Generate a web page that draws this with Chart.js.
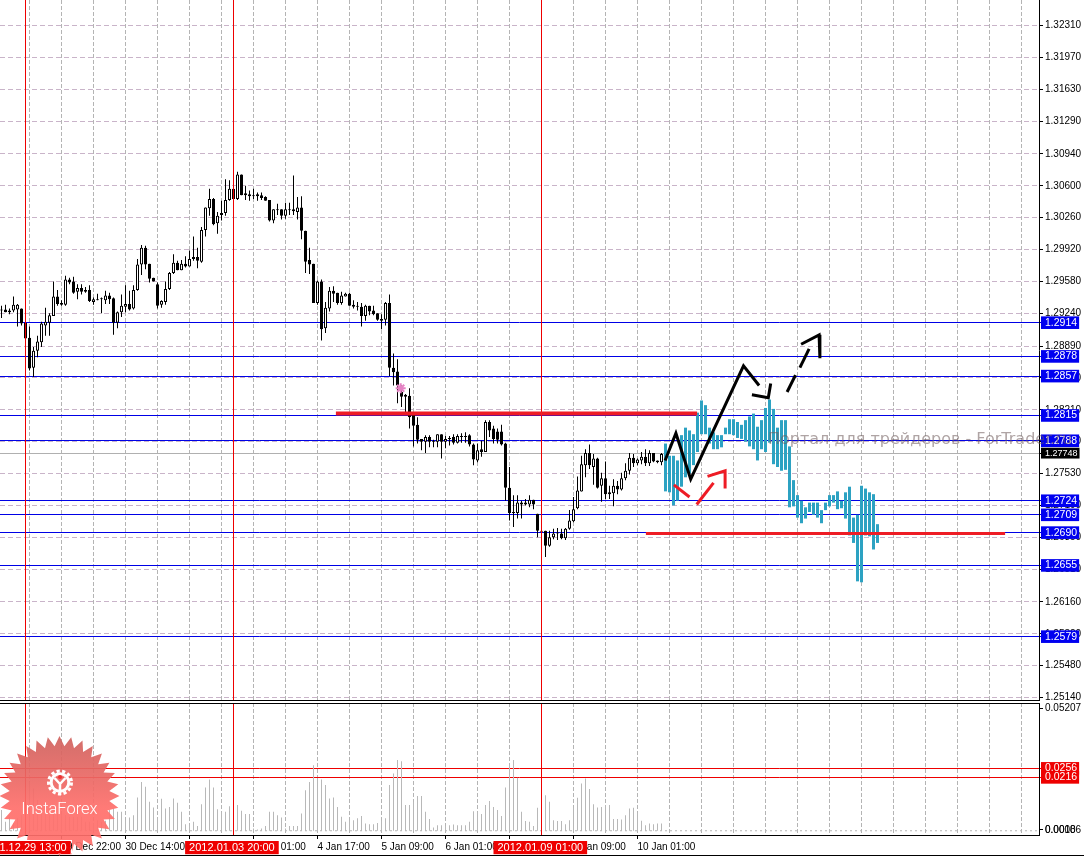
<!DOCTYPE html>
<html><head><meta charset="utf-8">
<style>
html,body{margin:0;padding:0;background:#fff;width:1084px;height:856px;overflow:hidden}
canvas{position:absolute;left:0;display:block}
.rule{position:absolute;left:0;background:#000}
#mark{position:absolute;left:768px;top:429px;font:16px "DejaVu Sans",sans-serif;color:rgba(110,90,90,.55);white-space:nowrap;letter-spacing:0}
#logo{position:absolute;left:0;top:730px}
</style></head><body>
<canvas id="main" width="1084" height="701" style="top:0"></canvas>
<canvas id="sub" width="1084" height="154" style="top:702px"></canvas>
<div class="rule" style="top:700px;width:1040px;height:1px"></div>
<div class="rule" style="top:703px;width:1040px;height:1px"></div>
<div class="rule" style="top:855px;width:1084px;height:1px"></div>
<div id="mark">Портал для трейдеров - ForTrader.ru</div>
<svg id="logo" width="125" height="126" viewBox="0 730 125 126">
<defs><linearGradient id="g" x1="0" y1="0" x2="0" y2="1"><stop offset="0" stop-color="#cf625e"/><stop offset=".42" stop-color="#f06a66"/><stop offset=".6" stop-color="#ff6f6b"/></linearGradient>
<clipPath id="c"><path clip-rule="evenodd" d="M0 730H125V856H0Z M0 840H72V853H0Z"/></clipPath></defs>
<polygon id="seal" fill="url(#g)" fill-opacity=".92" clip-path="url(#c)"/>
<circle cx="60" cy="782.5" r="11.5" fill="none" stroke="#fff" stroke-width="3" stroke-dasharray="3.2 2.4"/>
<circle cx="60" cy="782.5" r="8.8" fill="none" stroke="#fff" stroke-width="3"/>
<path d="M54.5 778 L60 784 L65.500 778 M60 784 V795" fill="none" stroke="#fff" stroke-width="2.500"/>
<circle cx="60" cy="777" r="2" fill="#e33"/>
<text x="59.500" y="814" text-anchor="middle" font-family="Roboto, 'Liberation Sans', sans-serif" font-weight="300" font-size="16.500" fill="#fff">InstaForex</text>
</svg>
<script src="https://cdn.jsdelivr.net/npm/chart.js@4/dist/chart.umd.min.js"></script>
<script>
const opens=[1.2928,1.2928,1.2927,1.2927,1.2928,1.2929,1.2914,1.2898,1.2866,1.2884,1.2893,1.2911,1.2914,1.2921,1.2942,1.2935,1.2933,1.2960,1.2958,1.2947,1.2951,1.2949,1.2949,1.2936,1.2939,1.2940,1.2938,1.2943,1.2940,1.2914,1.2925,1.2931,1.2934,1.2929,1.2949,1.2976,1.2994,1.2977,1.2962,1.2955,1.2933,1.2936,1.2950,1.2967,1.2978,1.2970,1.2977,1.2974,1.2982,1.2984,1.2979,1.3013,1.3036,1.3046,1.3020,1.3029,1.3031,1.3045,1.3057,1.3046,1.3072,1.3052,1.3051,1.3050,1.3051,1.3050,1.3048,1.3045,1.3023,1.3035,1.3035,1.3028,1.3034,1.3033,1.3032,1.3037,1.3012,1.2981,1.2977,1.2935,1.2958,1.2908,1.2929,1.2948,1.2946,1.2935,1.2942,1.2945,1.2933,1.2932,1.2931,1.2921,1.2932,1.2927,1.2924,1.2918,1.2917,1.2935,1.2866,1.2862,1.2840,1.2837,1.2836,1.2817,1.2805,1.2790,1.2787,1.2792,1.2788,1.2787,1.2795,1.2787,1.2791,1.2792,1.2786,1.2793,1.2793,1.2794,1.2784,1.2767,1.2779,1.2776,1.2808,1.2801,1.2798,1.2798,1.2785,1.2738,1.2711,1.2711,1.2722,1.2722,1.2720,1.2725,1.2710,1.2692,1.2692,1.2676,1.2685,1.2690,1.2689,1.2684,1.2694,1.2702,1.2716,1.2734,1.2762,1.2775,1.2760,1.2769,1.2740,1.2748,1.2733,1.2732,1.2740,1.2736,1.2748,1.2756,1.2770,1.2764,1.2767,1.2771,1.2764,1.2775,1.2767,1.2765];
const highs=[1.2932,1.2933,1.2929,1.2942,1.2934,1.2929,1.2914,1.2910,1.2888,1.2900,1.2915,1.2930,1.2924,1.2958,1.2949,1.2938,1.2964,1.2962,1.2963,1.2955,1.2955,1.2952,1.2954,1.2941,1.2945,1.2941,1.2948,1.2946,1.2941,1.2926,1.2944,1.2954,1.2948,1.2954,1.2982,1.2997,1.2996,1.2977,1.2962,1.2957,1.2938,1.2958,1.2968,1.2987,1.2980,1.2981,1.2985,1.2991,1.3006,1.2994,1.3016,1.3037,1.3057,1.3047,1.3032,1.3044,1.3067,1.3066,1.3057,1.3075,1.3072,1.3060,1.3055,1.3057,1.3053,1.3053,1.3049,1.3045,1.3035,1.3041,1.3035,1.3042,1.3042,1.3071,1.3048,1.3049,1.3012,1.2994,1.2977,1.2959,1.2960,1.2936,1.2952,1.2953,1.2946,1.2947,1.2946,1.2946,1.2938,1.2936,1.2935,1.2933,1.2932,1.2932,1.2924,1.2923,1.2936,1.2944,1.2881,1.2875,1.2847,1.2838,1.2844,1.2818,1.2813,1.2790,1.2794,1.2794,1.2789,1.2795,1.2795,1.2793,1.2793,1.2795,1.2795,1.2796,1.2797,1.2795,1.2785,1.2785,1.2788,1.2810,1.2810,1.2804,1.2801,1.2805,1.2786,1.2760,1.2730,1.2730,1.2724,1.2726,1.2730,1.2725,1.2710,1.2692,1.2692,1.2692,1.2694,1.2695,1.2694,1.2695,1.2714,1.2728,1.2750,1.2772,1.2779,1.2784,1.2774,1.2770,1.2754,1.2766,1.2740,1.2747,1.2745,1.2754,1.2764,1.2775,1.2774,1.2769,1.2776,1.2779,1.2778,1.2775,1.2767,1.2775];
const lows=[1.2919,1.2925,1.2923,1.2925,1.2910,1.2911,1.2897,1.2863,1.2856,1.2877,1.2888,1.2900,1.2900,1.2921,1.2932,1.2932,1.2932,1.2955,1.2945,1.2939,1.2944,1.2946,1.2936,1.2933,1.2938,1.2924,1.2934,1.2934,1.2901,1.2908,1.2920,1.2925,1.2927,1.2928,1.2948,1.2965,1.2971,1.2957,1.2958,1.2929,1.2930,1.2933,1.2949,1.2966,1.2970,1.2970,1.2973,1.2974,1.2980,1.2972,1.2978,1.3006,1.3028,1.3018,1.3009,1.3023,1.3028,1.3044,1.3045,1.3045,1.3050,1.3045,1.3044,1.3046,1.3044,1.3045,1.3044,1.3022,1.3020,1.3029,1.3024,1.3025,1.3029,1.3029,1.3024,1.3003,1.2967,1.2966,1.2935,1.2933,1.2895,1.2903,1.2926,1.2936,1.2933,1.2933,1.2942,1.2932,1.2929,1.2927,1.2910,1.2916,1.2922,1.2922,1.2916,1.2907,1.2911,1.2857,1.2847,1.2828,1.2824,1.2818,1.2801,1.2782,1.2785,1.2778,1.2775,1.2781,1.2781,1.2781,1.2769,1.2780,1.2783,1.2784,1.2785,1.2786,1.2786,1.2782,1.2762,1.2765,1.2771,1.2776,1.2792,1.2785,1.2785,1.2783,1.2724,1.2703,1.2696,1.2705,1.2705,1.2719,1.2717,1.2715,1.2685,1.2687,1.2664,1.2675,1.2683,1.2682,1.2683,1.2682,1.2693,1.2701,1.2715,1.2734,1.2749,1.2758,1.2741,1.2737,1.2723,1.2726,1.2726,1.2718,1.2731,1.2735,1.2746,1.2752,1.2760,1.2762,1.2763,1.2761,1.2761,1.2765,1.2764,1.2762];
const closes=[1.2927,1.2925,1.2925,1.2933,1.2933,1.2913,1.2897,1.2865,1.2884,1.2894,1.2913,1.2915,1.2922,1.2942,1.2934,1.2933,1.2960,1.2957,1.2946,1.2951,1.2947,1.2947,1.2937,1.2939,1.2938,1.2939,1.2943,1.2939,1.2914,1.2925,1.2932,1.2934,1.2928,1.2949,1.2976,1.2994,1.2976,1.2961,1.2958,1.2932,1.2937,1.2950,1.2967,1.2978,1.2970,1.2977,1.2974,1.2982,1.2984,1.2980,1.3013,1.3037,1.3046,1.3019,1.3028,1.3031,1.3045,1.3057,1.3046,1.3072,1.3050,1.3050,1.3049,1.3049,1.3049,1.3047,1.3044,1.3023,1.3035,1.3034,1.3028,1.3035,1.3035,1.3035,1.3037,1.3012,1.2979,1.2976,1.2935,1.2958,1.2907,1.2930,1.2948,1.2945,1.2935,1.2943,1.2945,1.2932,1.2931,1.2931,1.2921,1.2932,1.2926,1.2923,1.2917,1.2916,1.2935,1.2866,1.2861,1.2847,1.2835,1.2835,1.2813,1.2804,1.2789,1.2787,1.2792,1.2787,1.2787,1.2795,1.2787,1.2790,1.2790,1.2786,1.2793,1.2792,1.2792,1.2784,1.2768,1.2778,1.2776,1.2808,1.2799,1.2790,1.2789,1.2784,1.2738,1.2711,1.2712,1.2722,1.2720,1.2720,1.2725,1.2720,1.2692,1.2691,1.2676,1.2685,1.2689,1.2689,1.2684,1.2694,1.2703,1.2715,1.2735,1.2763,1.2775,1.2762,1.2769,1.2738,1.2748,1.2731,1.2731,1.2740,1.2736,1.2748,1.2756,1.2770,1.2764,1.2768,1.2771,1.2764,1.2775,1.2766,1.2765,1.2774];

const forecastStart=166;
const forecastTop=[1.2785,1.2772,1.2772,1.2767,1.2794,1.2802,1.2799,1.2795,1.2818,1.2831,1.2826,1.2802,1.2797,1.2794,1.2794,1.2802,1.2811,1.2811,1.2808,1.2805,1.2810,1.2814,1.2817,1.2803,1.2810,1.2823,1.2832,1.2822,1.2802,1.2810,1.2810,1.2782,1.2746,1.2730,1.2724,1.2717,1.2722,1.2722,1.2722,1.2714,1.2722,1.2730,1.2730,1.2734,1.2724,1.2733,1.2739,1.2706,1.2709,1.2740,1.2737,1.2733,1.2731,1.2699];
const forecastBottom=[1.2734,1.2733,1.2719,1.2724,1.2739,1.2749,1.2753,1.2762,1.2776,1.2795,1.2795,1.2785,1.2779,1.2779,1.2781,1.2795,1.2795,1.2794,1.2791,1.2790,1.2787,1.2782,1.2779,1.2767,1.2779,1.2776,1.2786,1.2763,1.2760,1.2756,1.2757,1.2717,1.2718,1.2706,1.2700,1.2705,1.2712,1.2709,1.2706,1.2700,1.2714,1.2718,1.2722,1.2715,1.2716,1.2705,1.2687,1.2679,1.2638,1.2637,1.2687,1.2686,1.2672,1.2679];

const activity=[.0071,.0019,.0041,.0011,.0034,.0048,.0085,.0196,.0167,.0115,.0085,.0056,.0048,.0071,.0056,.0048,.0048,.0041,.0041,.0041,.0041,.0019,.0019,.0014,.0026,.0019,.0023,.0071,.0078,.0063,.0063,.0026,.0038,.0048,.0127,.0196,.0174,.0108,.0082,.0034,.0121,.0078,.0085,.0122,.0103,.0063,.0008,.0004,.0019,0,.0097,.0171,.0207,.0171,.0075,.0060,.0063,.0088,.0008,.0093,.0068,.0053,.0053,-.0011,-.0015,-.0011,0,.0063,.0063,.0048,.0038,-.0011,0,0,0,.0056,.0159,.0196,.0270,.0211,.0207,.0182,.0122,.0127,.0085,.0041,.0019,.0026,.0026,.0034,.0044,.0011,.0008,.0008,.0014,.0023,.0034,.0182,.0233,.0293,.0288,.0093,.0093,.0108,.0133,.0133,.0063,.0031,-.0006,.0004,.0004,0,.0004,.0007,.0004,.0004,.0004,.0019,.0066,.0063,.0053,.0093,.0111,.0085,.0071,.0044,.0171,.0270,.0293,.0214,.0063,.0022,.0019,0,.0081,.0041,.0137,.0108,.0026,.0022,.0022,.0008,.0026,.0082,.0125,.0189,.0211,.0164,.0097,.0082,.0085,.0093,.0093,.0031,.0031,.0029,.0048,.0078,.0081,.0060,.0023,.0004,.0011,.0008,.0011,.0011];
const activityBase=-.0021;

const priceTicks=[1.3231,1.3197,1.3163,1.3129,1.3094,1.3060,1.3026,1.2992,1.2958,1.2924,1.2889,1.2855,1.2821,1.2787,1.2753,1.2719,1.2685,1.2651,1.2616,1.2582,1.2548,1.2514];
const priceTickLabels=['1.32310','1.31970','1.31630','1.31290','1.30940','1.30600','1.30260','1.29920','1.29580','1.29240','1.28890','1.28550','1.28210','1.27870','1.27530','1.27190','1.26850','1.26510','1.26160','1.25820','1.25480','1.25140'];
const levels=[1.2914,1.2878,1.2857,1.2815,1.2788,1.2724,1.2709,1.2690,1.2655,1.2579];
const levelLabels=['1.2914','1.2878','1.2857','1.2815','1.2788','1.2724','1.2709','1.2690','1.2655','1.2579'];
const lastPrice=1.27748, lastPriceLabel='1.27748';

const activityTicks=[.05207,-.0017,-.0017];
const activityTickLabels=['0.05207','0.00186','0.0000'];
const activityLevels=[.0256,.0216];
const activityLevelLabels=['0.0256','0.0216'];

const sessionBars=[6,58,135];
const gridBars=[7,15,23,31,39,47,55,63,71,79,87,95,103,111,119,127,135,143,151,159,167,175,183,191,199,207,215,223,231,239,247,255];
const timeBars=[15,31,47,63,79,95,111,127,143,159];
const timeLabels=['29 Dec 22:00','30 Dec 14:00','3 Jan 09:00','4 Jan 01:00','4 Jan 17:00','5 Jan 09:00','6 Jan 01:00','6 Jan 17:00','9 Jan 09:00','10 Jan 01:00'];
const sessionLabelBars=[-4.9,46.9,124];
const sessionLabels=['2011.12.29 13:00','2012.01.03 20:00','2012.01.09 01:00'];

const supportBars=[83.6,173.9], supportPrice=1.2817;
const floorBars=[161.1,250.9], floorPrice=1.2689;
const pathMainX=[165.9,168.6,172.3,185.5,189.4], pathMainY=[1.2767,1.2796,1.2747,1.2868,1.2847];
const pathHookX=[187.6,191.7,192.3], pathHookY=[1.2837,1.2834,1.2849];
const pathDashAX=[196.4,198.5], pathDashAY=[1.2840,1.2858];
const pathDashBX=[199.6,201.9], pathDashBY=[1.2866,1.2886];
const pathHeadX=[199.9,204.4,204.6], pathHeadY=[1.2891,1.2901,1.2876];
const pathRedAX=[168.1,172], pathRedAY=[1.2741,1.2728];
const pathRedBX=[173.8,178], pathRedBY=[1.2720,1.2743];
const pathRedCX=[176.5,180.9,180.9], pathRedCY=[1.2750,1.2756,1.2737];
const markerBar=99.8, markerPrice=1.2844;

const xMin=-.375, xMax=259.375;
const yMin=1.25114, yMax=1.32583;
const subMin=-.00398, subMax=.05461;
const FONT="'Liberation Sans',sans-serif";

function path(xs,ys,color,width,order){
  return {type:'line',data:xs.map((x,i)=>({x,y:ys[i]})),borderColor:color,borderWidth:width,pointRadius:0,tension:0,order,borderCapStyle:'butt',borderJoinStyle:'miter'};
}
function vline(i,lo,hi){return path([i,i],[lo,hi],'#ee0000',1,30);}
function zero(s){s.paddingLeft=s.paddingRight=s.paddingTop=s.paddingBottom=0;}
const common={responsive:false,animation:false,events:[],layout:{autoPadding:false,padding:0},
  plugins:{legend:{display:false},tooltip:{enabled:false}}};

/* ---- price panel ---- */
const idx=opens.map((_,i)=>i);
const yTickValues=[...priceTicks,...levels,lastPrice];
const yTickText=[...priceTickLabels,...levelLabels,lastPriceLabel];
const nP=priceTicks.length, nL=levels.length;
new Chart(document.getElementById('main'),{
 type:'bar',
 data:{datasets:[
  {data:idx.map(i=>({x:i,y:[lows[i],highs[i]]})),backgroundColor:'#000',barThickness:1,grouped:false,inflateAmount:0,borderWidth:0,order:40},
  {data:idx.map(i=>({x:i,y:[opens[i],closes[i]]})),
   backgroundColor:idx.map(i=>closes[i]>opens[i]?'#fff':'#000'),borderColor:'#000',borderWidth:1,borderSkipped:false,
   barThickness:3,grouped:false,inflateAmount:0,order:39},
  {data:forecastTop.map((t,k)=>({x:forecastStart+k,y:[forecastBottom[k],t]})),backgroundColor:'#2ca2c2',barThickness:3,grouped:false,inflateAmount:0,borderWidth:0,order:38},
  ...sessionBars.map(i=>vline(i,yMin,yMax)),
  path(supportBars,[supportPrice,supportPrice],'#ee1c25',4,20),
  path(floorBars,[floorPrice,floorPrice],'#ee1c25',3,20),
  path(pathMainX,pathMainY,'#000',3,10),
  path(pathHookX,pathHookY,'#000',3,10),
  path(pathDashAX,pathDashAY,'#000',3,10),
  path(pathDashBX,pathDashBY,'#000',3,10),
  path(pathHeadX,pathHeadY,'#000',3,10),
  path(pathRedAX,pathRedAY,'#ee1c25',3,10),
  path(pathRedBX,pathRedBY,'#ee1c25',3,10),
  path(pathRedCX,pathRedCY,'#ee1c25',3,10),
  {type:'line',data:[{x:markerBar,y:markerPrice}],showLine:false,pointStyle:'star',pointRadius:5,pointBorderWidth:2,pointBorderColor:'#e583c4',pointBackgroundColor:'#e583c4',order:5}
 ]},
 options:{...common,scales:{
  x:{type:'linear',min:xMin,max:xMax,offset:false,
     afterBuildTicks:s=>{s.ticks=gridBars.map(v=>({value:v}));},
     afterFit:s=>{s.height=1;zero(s);},
     ticks:{display:false,autoSkip:false},
     grid:{offset:false,color:'#b4b4b4',lineWidth:1,drawTicks:false},
     border:{display:true,color:'#000',dash:[4,2]}},
  y:{type:'linear',position:'right',min:yMin,max:yMax,beginAtZero:false,
     afterBuildTicks:s=>{s.ticks=yTickValues.map(v=>({value:v}));},
     afterFit:s=>{s.width=45;zero(s);},
     grid:{color:c=>c.index<nP?'#c9b4c9':(c.index<nP+nL?'#0000e6':'#b0b0b0'),lineWidth:1,tickLength:4,
           tickColor:c=>c.index<nP?'#000':(c.index<nP+nL?'#0000e6':'#000')},
     border:{display:true,color:'#000',width:1,dash:c=>c.index<nP?[5,3]:[]},
     ticks:{autoSkip:false,padding:2,maxRotation:0,minRotation:0,
       callback:(v,i)=>yTickText[i],
       color:c=>c.index<nP?'#000':'#fff',
       font:c=>c.index<nP?{family:FONT,size:10}:{family:FONT,size:c.index<nP+nL?10.5:9},
       showLabelBackdrop:c=>c.index>=nP,
       backdropColor:c=>c.index<nP+nL?'#0000f0':'#000',
       backdropPadding:{left:4,right:2,top:0,bottom:0}}}
 }}
});

/* ---- lower panel ---- */
const labelOfBar={}; timeBars.forEach((b,i)=>labelOfBar[b]=timeLabels[i]);
const xTicks=[...gridBars,...sessionLabelBars];
const xText=[...gridBars.map(b=>labelOfBar[b]||''),...sessionLabels];
const nG=gridBars.length;
const subTicks=[...activityTicks,...activityLevels];
const subText=[...activityTickLabels,...activityLevelLabels];
new Chart(document.getElementById('sub'),{
 type:'bar',
 data:{datasets:[
  {data:activity.map((v,i)=>({x:i,y:[activityBase,v]})),backgroundColor:'#b8b8b8',barThickness:1,grouped:false,inflateAmount:0,borderWidth:0,order:40},
  {type:'line',data:[{x:xMin,y:activityBase},{x:xMax,y:activityBase}],borderColor:'#b4b4b4',borderWidth:1,borderDash:[2,3],pointRadius:0,order:35},
  ...sessionBars.map(i=>vline(i,subMin,subMax))
 ]},
 options:{...common,layout:{autoPadding:false,padding:{top:1}},scales:{
  x:{type:'linear',min:xMin,max:xMax,offset:false,
     afterBuildTicks:s=>{s.ticks=xTicks.map(v=>({value:v}));},
     afterFit:s=>{s.height=21;zero(s);},
     grid:{offset:false,lineWidth:1,tickLength:4,
       color:c=>c.index<nG?'#b4b4b4':'rgba(0,0,0,0)',
       tickColor:c=>(c.index<nG&&xText[c.index])?'#000':'rgba(0,0,0,0)'},
     border:{display:true,color:'#000',dash:[4,2]},
     ticks:{autoSkip:false,align:'start',padding:2,maxRotation:0,minRotation:0,
       callback:(v,i)=>xText[i],
       color:c=>c.index<nG?'#000':'#fff',
       font:c=>c.index<nG?{family:FONT,size:10}:{family:FONT,size:11},
       showLabelBackdrop:c=>c.index>=nG,
       backdropColor:'#ee0000',
       backdropPadding:{left:4,right:4,top:0,bottom:0}}},
  y:{type:'linear',position:'right',min:subMin,max:subMax,beginAtZero:false,
     afterBuildTicks:s=>{s.ticks=subTicks.map(v=>({value:v}));},
     afterFit:s=>{s.width=45;zero(s);},
     grid:{lineWidth:1,tickLength:4,
       color:c=>c.index<activityTicks.length?'rgba(0,0,0,0)':'#ee0000',
       tickColor:c=>c.index<activityTicks.length?'#000':'#ee0000'},
     border:{display:true,color:'#000',width:1},
     ticks:{autoSkip:false,padding:2,maxRotation:0,minRotation:0,
       callback:(v,i)=>subText[i],
       color:c=>c.index<activityTicks.length?'#000':'#fff',
       font:c=>c.index<activityTicks.length?{family:FONT,size:10}:{family:FONT,size:10.5},
       showLabelBackdrop:c=>c.index>=activityTicks.length,
       backdropColor:'#ee0000',
       backdropPadding:{left:4,right:2,top:0,bottom:0}}}
 }}
});

/* decorative seal behind the InstaForex text */
(function(){
  const spikes=32,cx=59.5,cy=796,R=60,r=50,p=[];
  for(let k=0;k<spikes*2;k++){
    const a=Math.PI*k/spikes-Math.PI/2, q=k%2?r:R;
    p.push((cx+q*Math.cos(a)).toFixed(1)+','+(cy+q*Math.sin(a)).toFixed(1));
  }
  document.getElementById('seal').setAttribute('points',p.join(' '));
})();
</script>
</body></html>
